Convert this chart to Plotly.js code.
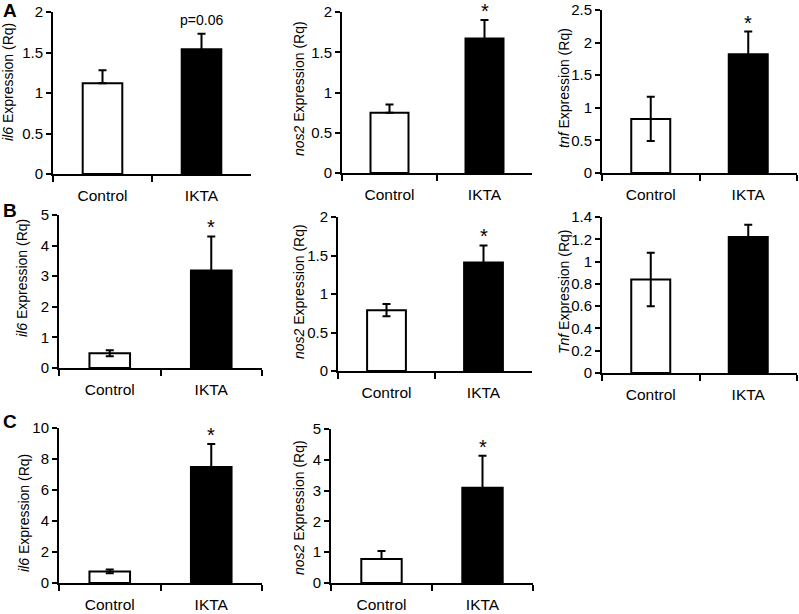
<!DOCTYPE html>
<html>
<head>
<meta charset="utf-8">
<script src="https://cdn.plot.ly/plotly-3.0.1.min.js"></script>
<style>
  html, body { margin: 0; padding: 0; background: #fff; }
  #chart { width: 799px; height: 614px; }
</style>
</head>
<body>
<div id="chart"></div>
<script>
// groups on every panel
const groups = ['Control', 'IKTA'];

// row A
const aIl6 = [1.12, 1.54];
const aIl6Err = [0.16, 0.19];
const aIl6ErrDown = [0, 0.19];
const aNos2 = [0.75, 1.67];
const aNos2Err = [0.10, 0.23];
const aNos2ErrDown = [0, 0.23];
const aTnf = [0.83, 1.82];
const aTnfErr = [0.34, 0.35];

// row B
const bIl6 = [0.48, 3.19];
const bIl6Err = [0.10, 1.11];
const bNos2 = [0.79, 1.41];
const bNos2Err = [0.08, 0.22];
const bTnf = [0.84, 1.22];
const bTnfErr = [0.24, 0.11];

// row C
const cIl6 = [0.75, 7.49];
const cIl6Err = [0.12, 1.48];
const cNos2 = [0.78, 3.09];
const cNos2Err = [0.26, 1.04];
const cNos2ErrDown = [0, 1.04];

// significance marks over IKTA
const marks = ['p=0.06', '*', '*', '*', '*', '', '*', '*'];

const W = 799, H = 614;
const FONT = 'Liberation Sans, Arial, Helvetica, sans-serif';

// panel layout in pixels: axis box [x0, x1, yTop, yBottom], title centre
const panels = [
  {gene: 'il6',  y: aIl6,  up: aIl6Err,  down: aIl6ErrDown,  max: 2,   dt: 0.5, box: [53, 251, 12, 174],   tx: 8,   ty: 82},
  {gene: 'nos2', y: aNos2, up: aNos2Err, down: aNos2ErrDown, max: 2,   dt: 0.5, box: [342, 532, 12, 173],  tx: 299, ty: 89},
  {gene: 'tnf',  y: aTnf,  up: aTnfErr,  down: aTnfErr,      max: 2.5, dt: 0.5, box: [602, 797, 10, 173],  tx: 564, ty: 88},
  {gene: 'il6',  y: bIl6,  up: bIl6Err,  down: bIl6Err,      max: 5,   dt: 1,   box: [59, 262, 215, 368],  tx: 22,  ty: 278},
  {gene: 'nos2', y: bNos2, up: bNos2Err, down: bNos2Err,     max: 2,   dt: 0.5, box: [338, 532, 217, 371], tx: 299, ty: 292},
  {gene: 'Tnf',  y: bTnf,  up: bTnfErr,  down: bTnfErr,      max: 1.4, dt: 0.2, box: [602, 797, 217, 373], tx: 564, ty: 292},
  {gene: 'il6',  y: cIl6,  up: cIl6Err,  down: cIl6Err,      max: 10,  dt: 2,   box: [59, 262, 428, 583],  tx: 24,  ty: 513},
  {gene: 'nos2', y: cNos2, up: cNos2Err, down: cNos2ErrDown, max: 5,   dt: 1,   box: [331, 533, 429, 583], tx: 299, ty: 508}
];

const traces = [];
const layout = {
  width: W, height: H,
  margin: {l: 0, r: 0, t: 0, b: 0},
  paper_bgcolor: '#fff', plot_bgcolor: '#fff',
  showlegend: false,
  font: {family: FONT, color: '#000'},
  annotations: []
};

panels.forEach((p, i) => {
  const n = i + 1;
  const xa = 'x' + (i === 0 ? '' : n);
  const ya = 'y' + (i === 0 ? '' : n);

  traces.push({
    type: 'bar',
    x: groups,
    y: p.y,
    xaxis: xa, yaxis: ya,
    width: 0.4,
    marker: {color: ['#ffffff', '#000000'], line: {color: '#000', width: 2}},
    error_y: {type: 'data', symmetric: false, array: p.up, arrayminus: p.down,
              color: '#000', thickness: 2, width: 4},
    hoverinfo: 'x+y'
  });

  const [x0, x1, yt, yb] = p.box;
  layout['xaxis' + (i === 0 ? '' : n)] = {
    domain: [x0 / W, x1 / W],
    anchor: ya,
    type: 'category',
    range: [-0.5, 1.5],
    tickson: 'boundaries',
    ticks: 'outside', ticklen: 6, tickwidth: 2, tickcolor: '#000',
    showline: true, linewidth: 2, linecolor: '#000',
    showgrid: false, zeroline: false,
    ticklabelstandoff: 6,
    tickfont: {family: FONT, size: 15.5, color: '#000'}
  };
  layout['yaxis' + (i === 0 ? '' : n)] = {
    domain: [1 - yb / H, 1 - yt / H],
    anchor: xa,
    range: [0, p.max],
    dtick: p.dt,
    ticks: 'outside', ticklen: 5, tickwidth: 2, tickcolor: '#000',
    showline: true, linewidth: 2, linecolor: '#000',
    showgrid: false, zeroline: false,
    tickfont: {family: FONT, size: 15, color: '#000'}
  };

  // y axis title
  layout.annotations.push({
    xref: 'paper', yref: 'paper',
    x: p.tx / W, y: 1 - p.ty / H,
    xanchor: 'center', yanchor: 'middle',
    textangle: -90, showarrow: false,
    text: '<i>' + p.gene + '</i> Expression (Rq)',
    font: {family: FONT, size: 14, color: '#000'}
  });

  // significance mark above IKTA error bar
  if (marks[i]) {
    const star = marks[i] === '*';
    layout.annotations.push({
      xref: xa, yref: ya,
      x: groups[1], y: p.y[1] + p.up[1],
      xanchor: 'center', yanchor: 'bottom',
      yshift: star ? -4 : 4,
      showarrow: false,
      text: marks[i],
      font: {family: FONT, size: star ? 20 : 14, color: '#000'}
    });
  }
});

// panel letters
[['A', 10], ['B', 211], ['C', 421]].forEach(([t, py]) => {
  layout.annotations.push({
    xref: 'paper', yref: 'paper',
    x: 1 / W, y: 1 - py / H,
    xanchor: 'left', yanchor: 'middle',
    showarrow: false,
    text: '<b>' + t + '</b>',
    font: {family: FONT, size: 19, color: '#000'}
  });
});

Plotly.newPlot('chart', traces, layout, {staticPlot: true});
</script>
</body>
</html>
